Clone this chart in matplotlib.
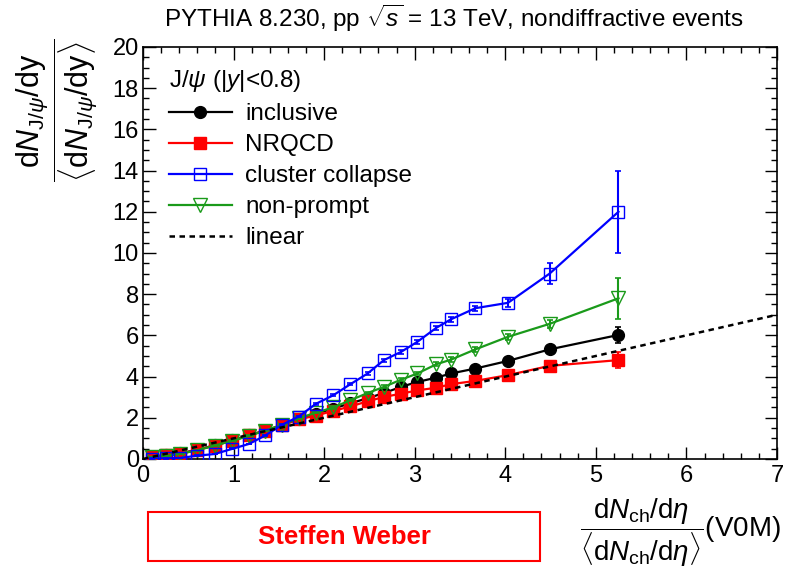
import matplotlib
matplotlib.use("Agg")
import matplotlib.pyplot as plt
from matplotlib.patches import Rectangle
from matplotlib.ticker import MultipleLocator

plt.rcParams['font.family'] = ['Liberation Sans', 'DejaVu Sans']
plt.rcParams['mathtext.fontset'] = 'custom'
plt.rcParams['mathtext.rm'] = 'Liberation Sans'
plt.rcParams['mathtext.it'] = 'Liberation Sans:italic'
plt.rcParams['mathtext.bf'] = 'Liberation Sans:bold'

# multiplicity bins (V0M)
x = [0.10, 0.25, 0.41, 0.60, 0.79, 0.985, 1.17, 1.35, 1.54, 1.72, 1.91, 2.10,
     2.29, 2.48, 2.66, 2.85, 3.03, 3.24, 3.40, 3.67, 4.03, 4.49, 5.25]

inclusive = [0.12, 0.18, 0.27, 0.45, 0.66, 0.90, 1.15, 1.38, 1.65, 1.95, 2.20, 2.45,
             2.70, 2.95, 3.20, 3.50, 3.74, 3.95, 4.15, 4.39, 4.76, 5.32, 6.02]
inclusive_err = [0.01, 0.01, 0.01, 0.01, 0.01, 0.01, 0.01, 0.02, 0.02, 0.02, 0.02, 0.03,
                 0.03, 0.03, 0.04, 0.04, 0.05, 0.05, 0.06, 0.07, 0.09, 0.15, 0.40]

nrqcd = [0.11, 0.17, 0.25, 0.44, 0.65, 0.89, 1.14, 1.38, 1.63, 1.92, 2.11, 2.33,
         2.55, 2.80, 3.01, 3.17, 3.33, 3.46, 3.63, 3.79, 4.07, 4.52, 4.80]
nrqcd_err = [0.01, 0.01, 0.01, 0.01, 0.01, 0.01, 0.01, 0.02, 0.02, 0.02, 0.02, 0.03,
             0.03, 0.03, 0.04, 0.04, 0.05, 0.05, 0.06, 0.07, 0.09, 0.15, 0.40]

cluster = [0.02, 0.03, 0.05, 0.16, 0.24, 0.49, 0.73, 1.14, 1.67, 2.06, 2.68, 3.09,
           3.63, 4.15, 4.80, 5.20, 5.69, 6.37, 6.78, 7.32, 7.58, 9.00, 12.0]
cluster_err = [0.01, 0.01, 0.01, 0.01, 0.02, 0.02, 0.02, 0.03, 0.03, 0.04, 0.04, 0.05,
               0.05, 0.06, 0.07, 0.08, 0.09, 0.10, 0.11, 0.13, 0.18, 0.50, 2.00]

nonprompt = [0.10, 0.15, 0.25, 0.42, 0.65, 0.88, 1.12, 1.38, 1.66, 1.98, 2.25, 2.50,
             2.85, 3.20, 3.50, 3.85, 4.15, 4.60, 4.82, 5.32, 5.93, 6.56, 7.80]
nonprompt_err = [0.01, 0.01, 0.01, 0.01, 0.02, 0.02, 0.02, 0.03, 0.03, 0.04, 0.04, 0.05,
                 0.05, 0.06, 0.07, 0.08, 0.09, 0.10, 0.11, 0.13, 0.15, 0.20, 1.00]

linear_x = [0, 7]
linear_y = [0, 7]

fig = plt.figure(figsize=(7.9, 5.73), dpi=100)
ax = fig.add_axes([0.181, 0.199, 0.8025, 0.719])

series = [
    (inclusive, inclusive_err, 'black', 'o', 'black', 'inclusive', 3),
    (nrqcd, nrqcd_err, 'red', 's', 'red', 'NRQCD', 4),
    (nonprompt, nonprompt_err, '#1a9a1a', 'v', 'none', 'non-prompt', 5),
    (cluster, cluster_err, 'blue', 's', 'none', 'cluster collapse', 6),
]
handles = {}
for yv, ye, col, mk, fc, lab, z in series:
    ax.errorbar(x, yv, yerr=ye, fmt='none', ecolor=col, elinewidth=1.5,
                capsize=2, capthick=1.2, zorder=z)
    ms = 8.5 if mk != 'v' else 9.5
    h, = ax.plot(x, yv, color=col, lw=1.6, marker=mk, ms=ms, mfc=fc,
                 mec=col, mew=1.0, label=lab, zorder=z)
    handles[lab] = h

h_lin, = ax.plot(linear_x, linear_y, color='black', lw=1.8, ls=(0, (2.2, 1.8)),
                 label='linear', zorder=7)

ax.set_xlim(0, 7)
ax.set_ylim(0, 20)
ax.xaxis.set_major_locator(MultipleLocator(1))
ax.xaxis.set_minor_locator(MultipleLocator(0.2))
ax.yaxis.set_major_locator(MultipleLocator(2))
ax.yaxis.set_minor_locator(MultipleLocator(0.5))
ax.tick_params(which='both', direction='in', top=True, right=True, labelsize=17)
ax.tick_params(which='major', length=9, width=1)
ax.tick_params(which='minor', length=4.5, width=1)
ax.tick_params(axis='x', pad=4)
ax.tick_params(axis='y', pad=3)
for s in ax.spines.values():
    s.set_linewidth(1.2)

leg = ax.legend([handles['inclusive'], handles['NRQCD'], handles['cluster collapse'],
                 handles['non-prompt'], h_lin],
                ['inclusive', 'NRQCD', 'cluster collapse', 'non-prompt', 'linear'],
                title=r'J/$\psi$ (|$y$|<0.8)', title_fontsize=17.5, fontsize=17.5,
                loc='upper left', bbox_to_anchor=(0.025, 0.972), frameon=False,
                handlelength=2.6, handletextpad=0.55, labelspacing=0.37,
                alignment='left', borderaxespad=0)

fig.text(0.575, 0.968,
         r'PYTHIA 8.230, pp $\sqrt{s}$ = 13 TeV, nondiffractive events',
         ha='center', va='center', fontsize=17.5)

fig.text(0.072, 0.808,
         r'$\dfrac{\mathrm{d}N_{\mathrm{J}/\psi}/\mathrm{dy}}{\langle\mathrm{d}N_{\mathrm{J}/\psi}/\mathrm{dy}\rangle}$',
         rotation=90, ha='center', va='center', fontsize=22)

fig.text(0.988, 0.07,
         r'$\dfrac{\mathrm{d}N_{\mathrm{ch}}/\mathrm{d}\eta}{\langle\mathrm{d}N_{\mathrm{ch}}/\mathrm{d}\eta\rangle}$(V0M)',
         ha='right', va='center', fontsize=20)

fig.patches.append(Rectangle((148 / 790, 1 - 561 / 573), 392 / 790, 49 / 573,
                             transform=fig.transFigure, fill=False,
                             edgecolor='red', lw=1.5))
fig.text(344 / 790, 1 - 537 / 573, 'Steffen Weber', color='red', fontsize=18.5,
         fontweight='bold', ha='center', va='center')

fig.savefig('out.png', dpi=100)
